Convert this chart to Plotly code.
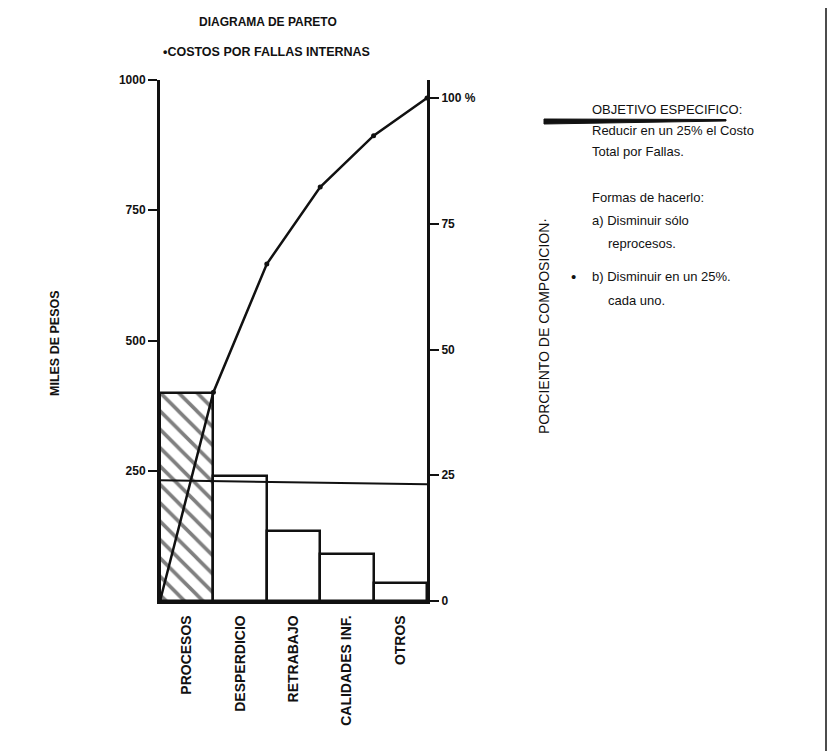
import plotly.graph_objects as go

# ---- data ----
categorias = ["PROCESOS", "DESPERDICIO", "RETRABAJO", "CALIDADES INF.", "OTROS"]
costos_miles = [400, 240, 135, 90, 35]            # miles de pesos (eje izquierdo)
acumulado_pct = [0, 41.5, 67, 82.3, 92.5, 100]     # porciento acumulado (eje derecho)
linea_objetivo_pct = [24.0, 23.2]                  # linea horizontal de referencia
ticks_izq = [250, 500, 750, 1000]
ticks_der = [0, 25, 50, 75, 100]
ticks_der_txt = ["0", "25", "50", "75", "100 %"]

W, H = 835, 751
X0, X1, Y0, Y1 = 152, 419, 72, 593   # plot area in pixels


def px(x):
    return (x - X0) / (X1 - X0)


def py(y):
    return (Y1 - y) / (Y1 - Y0)


n = len(categorias)
centros = [i + 0.5 for i in range(n)]
bordes = list(range(n + 1))

FONT = "Liberation Sans"
BLACK = "#111111"

fig = go.Figure()

fig.add_trace(go.Bar(
    x=centros, y=costos_miles, width=1.0,
    marker=dict(
        color="white",
        line=dict(color=BLACK, width=2.5),
        pattern=dict(shape=["\\", "", "", "", ""], fgcolor="#000000", bgcolor="white",
                     size=13, solidity=0.28, fillmode="overlay"),
    ),
    showlegend=False, hoverinfo="skip",
))

fig.add_trace(go.Scatter(
    x=[bordes[0], bordes[-1]], y=linea_objetivo_pct, yaxis="y2",
    mode="lines", line=dict(color=BLACK, width=2),
    showlegend=False, hoverinfo="skip",
))

fig.add_trace(go.Scatter(
    x=bordes, y=acumulado_pct, yaxis="y2",
    mode="lines+markers", line=dict(color=BLACK, width=2.5),
    marker=dict(size=5, color=BLACK),
    showlegend=False, hoverinfo="skip",
))

fig.update_layout(
    width=W, height=H, autosize=False,
    margin=dict(l=X0, r=W - X1, t=Y0, b=H - Y1, pad=0),
    paper_bgcolor="white", plot_bgcolor="white",
    font=dict(family=FONT, size=12, color=BLACK),
    bargap=0,
    xaxis=dict(
        range=[0, n], tickvals=centros, ticktext=[f"<b>{c}</b>" for c in categorias],
        tickangle=-90,
        showline=True, linecolor=BLACK, linewidth=2.5, ticks="outside", ticklen=6,
        tickcolor="rgba(0,0,0,0)",
        showgrid=False, zeroline=False,
        tickfont=dict(family=FONT, size=14, color=BLACK),
    ),
    yaxis=dict(
        range=[0, 1000], tickvals=ticks_izq,
        ticktext=[f"<b>{t}</b>" for t in ticks_izq],
        showline=True, linecolor=BLACK,
        linewidth=3, ticks="outside", ticklen=9, tickwidth=2, tickcolor=BLACK,
        showgrid=False, zeroline=False,
        tickfont=dict(family=FONT, size=12, color=BLACK),
    ),
    yaxis2=dict(
        range=[0, 100 * (Y1 - Y0) / (Y1 - 90)], overlaying="y", side="right",
        tickvals=ticks_der, ticktext=[f"<b>{t}</b>" for t in ticks_der_txt],
        showline=True, linecolor=BLACK,
        linewidth=3, ticks="outside", ticklen=9, tickwidth=2, tickcolor=BLACK,
        showgrid=False, zeroline=False,
        tickfont=dict(family=FONT, size=12, color=BLACK),
    ),
)

ann = []


def text(x, y, s, size=12, bold=False, anchor="left", angle=0):
    ann.append(dict(
        x=px(x), y=py(y), xref="paper", yref="paper", text=f"<b>{s}</b>" if bold else s,
        showarrow=False, xanchor=anchor, yanchor="middle", textangle=angle,
        font=dict(family=FONT, size=size, color=BLACK),
    ))


text(260, 14, "DIAGRAMA DE PARETO", 12, True, "center")
text(258, 44, "•COSTOS POR FALLAS INTERNAS", 12.5, True, "center")
text(47, 335, "MILES DE PESOS", 12.5, True, "center", -90)
text(536, 318, "PORCIENTO DE COMPOSICION·", 14, False, "center", -90)

text(582, 101, "OBJETIVO ESPECIFICO:", 13)
text(582, 122, "Reducir en un 25% el Costo", 13)
text(582, 143, "Total por Fallas.", 13)
text(582, 190, "Formas de hacerlo:", 13)
text(582, 213, "a) Disminuir sólo", 13)
text(598, 236, "reprocesos.", 13)
text(561, 268, "•", 15)
text(582, 268, "b) Disminuir en un 25%.", 13)
text(598, 292, "cada uno.", 13)

fig.update_layout(annotations=ann)

# tapered underline below "OBJETIVO ESPECIFICO:"
fig.add_shape(type="path", xref="paper", yref="paper",
              path=(f"M {px(536)},{py(111)} L {px(718)},{py(111.5)} "
                    f"L {px(718)},{py(113)} L {px(536)},{py(116)} Z"),
              fillcolor=BLACK, line=dict(color=BLACK, width=1))
fig.add_shape(type="line", xref="paper", yref="paper",
              x0=px(818), x1=px(818), y0=py(0), y1=py(751),
              line=dict(color=BLACK, width=1.5))

fig.write_html("out.html")
